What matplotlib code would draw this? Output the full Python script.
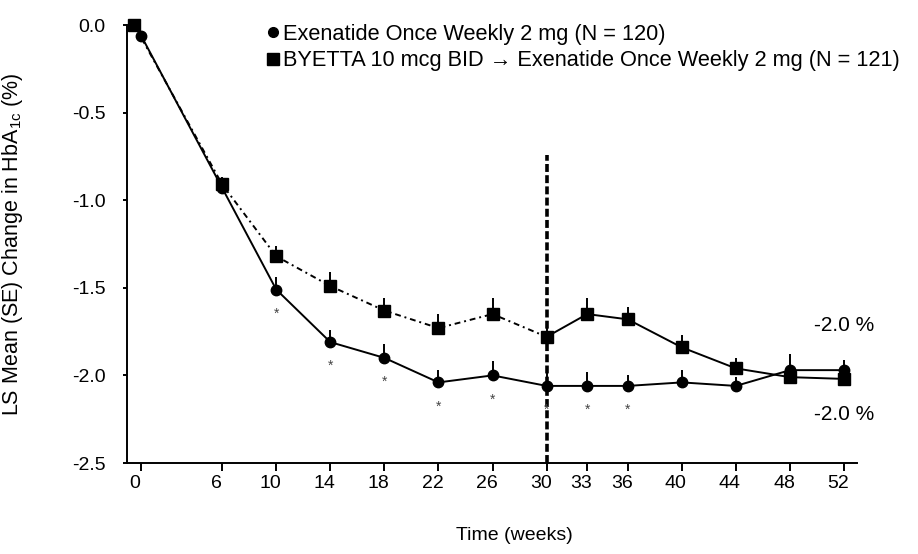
import matplotlib
matplotlib.use("Agg")
import matplotlib.pyplot as plt
from matplotlib.lines import Line2D
from matplotlib.transforms import ScaledTranslation

plt.rcParams['font.family'] = ['Liberation Sans', 'DejaVu Sans']
plt.rcParams['mathtext.fontset'] = 'custom'
plt.rcParams['mathtext.rm'] = 'Liberation Sans'
plt.rcParams['mathtext.it'] = 'Liberation Sans:italic'

# data
tick_weeks = [0, 6, 10, 14, 18, 22, 26, 30, 33, 36, 40, 44, 48, 52]

ex_weeks = [0, 6, 10, 14, 18, 22, 26, 30, 33, 36, 40, 44, 48, 52]
ex_mean = [-0.06, -0.93, -1.51, -1.81, -1.90, -2.04, -2.00, -2.06, -2.06, -2.06, -2.04, -2.06, -1.97, -1.97]
ex_se = [0.0, 0.04, 0.07, 0.07, 0.08, 0.07, 0.08, 0.08, 0.08, 0.06, 0.07, 0.05, 0.09, 0.06]

bid_weeks = [-0.5, 6, 10, 14, 18, 22, 26, 30, 33, 36, 40, 44, 48, 52]
bid_mean = [0.0, -0.91, -1.32, -1.49, -1.63, -1.73, -1.65, -1.78, -1.65, -1.68, -1.84, -1.96, -2.01, -2.02]
bid_se = [0.0, 0.04, 0.06, 0.08, 0.07, 0.08, 0.09, 0.08, 0.09, 0.07, 0.07, 0.06, 0.05, 0.05]

switch_week = 30          # BID -> once weekly switch
star_weeks = [10, 14, 18, 22, 26, 30, 33, 36]

ex_label = "Exenatide Once Weekly 2 mg (N = 120)"
bid_label = "BYETTA 10 mcg BID \u2192 Exenatide Once Weekly 2 mg (N = 121)"

fig = plt.figure(figsize=(9.18, 5.54), dpi=100)
ax = fig.add_axes([127 / 918, 91 / 554, 730 / 918, 438 / 554])

# vertical switch line
ax.plot([switch_week, switch_week], [-2.5, -0.74], color="black", lw=2.6,
        linestyle=(0, (2.2, 0.9)), zorder=2)

# error bars (upper only)
ax.errorbar(ex_weeks, ex_mean, yerr=[[0] * len(ex_se), ex_se], fmt="none",
            ecolor="black", elinewidth=1.4, capsize=0, zorder=3)
ax.errorbar(bid_weeks, bid_mean, yerr=[[0] * len(bid_se), bid_se], fmt="none",
            ecolor="black", elinewidth=1.4, capsize=0, zorder=3)

# exenatide once weekly - solid line, round markers
ax.plot(ex_weeks, ex_mean, color="black", lw=1.4, marker="o", ms=7.5,
        zorder=4, clip_on=False)

# BYETTA -> EQW : dash-dot until switch, solid afterwards
k = bid_weeks.index(switch_week)
ax.plot(bid_weeks[:k + 1], bid_mean[:k + 1], color="black", lw=1.4,
        linestyle=(0, (3, 2, 1, 2)), zorder=4, clip_on=False)
ax.plot(bid_weeks[k:], bid_mean[k:], color="black", lw=1.4, zorder=4)
ax.plot(bid_weeks, bid_mean, color="black", lw=0, marker="s", ms=9,
        zorder=5, clip_on=False)

# significance stars under the once weekly points
for w in star_weeks:
    v = ex_mean[ex_weeks.index(w)]
    ax.annotate("*", xy=(w, v), xytext=(0, -24), textcoords="offset pixels",
                ha="center", va="center", fontsize=10, color="#444444")

# end values
ax.annotate(f"{ex_mean[-1]:.1f} %", xy=(ex_weeks[-1], ex_mean[-1]),
            xytext=(0, 45), textcoords="offset pixels", ha="center", va="center",
            fontsize=15)
ax.annotate(f"{bid_mean[-1]:.1f} %", xy=(bid_weeks[-1], bid_mean[-1]),
            xytext=(0, -36), textcoords="offset pixels", ha="center", va="center",
            fontsize=15)

ax.set_xlim(-1.04, 52.96)
ax.set_ylim(-2.5, 0.0)
ax.set_xticks(tick_weeks)
ax.set_xticklabels([str(w) for w in tick_weeks])
ax.set_yticks([0.0, -0.5, -1.0, -1.5, -2.0, -2.5])
ax.set_yticklabels(["0.0", "-0.5", "-1.0", "-1.5", "-2.0", "-2.5"])

for s in ["top", "right"]:
    ax.spines[s].set_visible(False)
for s in ["left", "bottom"]:
    ax.spines[s].set_linewidth(1.4)

ax.tick_params(axis="x", direction="out", length=6, width=1.4, pad=3, labelsize=14)
ax.tick_params(axis="y", direction="out", length=3, width=1.4, pad=12.5, labelsize=14)

# x tick labels sit a little left of their ticks in the original
shift = ScaledTranslation(-6 / 100, 0, fig.dpi_scale_trans)
for lab in ax.get_xticklabels():
    lab.set_transform(lab.get_transform() + shift)

ax.set_ylabel("LS Mean (SE) Change in HbA$_{\\mathrm{1c}}$ (%)", fontsize=15.5)
ax.yaxis.set_label_coords(-0.14, 0.5)
ax.set_xlabel("Time (weeks)", fontsize=14)
ax.xaxis.set_label_coords(0.53, -0.145)

handles = [Line2D([], [], color="black", marker="o", ms=7, ls="none"),
           Line2D([], [], color="black", marker="s", ms=8, ls="none")]
fig.legend(handles, [ex_label, bid_label], loc="upper left",
           bbox_to_anchor=(268 / 918, 1 - 24 / 554), frameon=False,
           fontsize=15.7, handlelength=0.5, handletextpad=0.2,
           labelspacing=0.25, borderpad=0, borderaxespad=0)

plt.savefig("out.png", dpi=100)
